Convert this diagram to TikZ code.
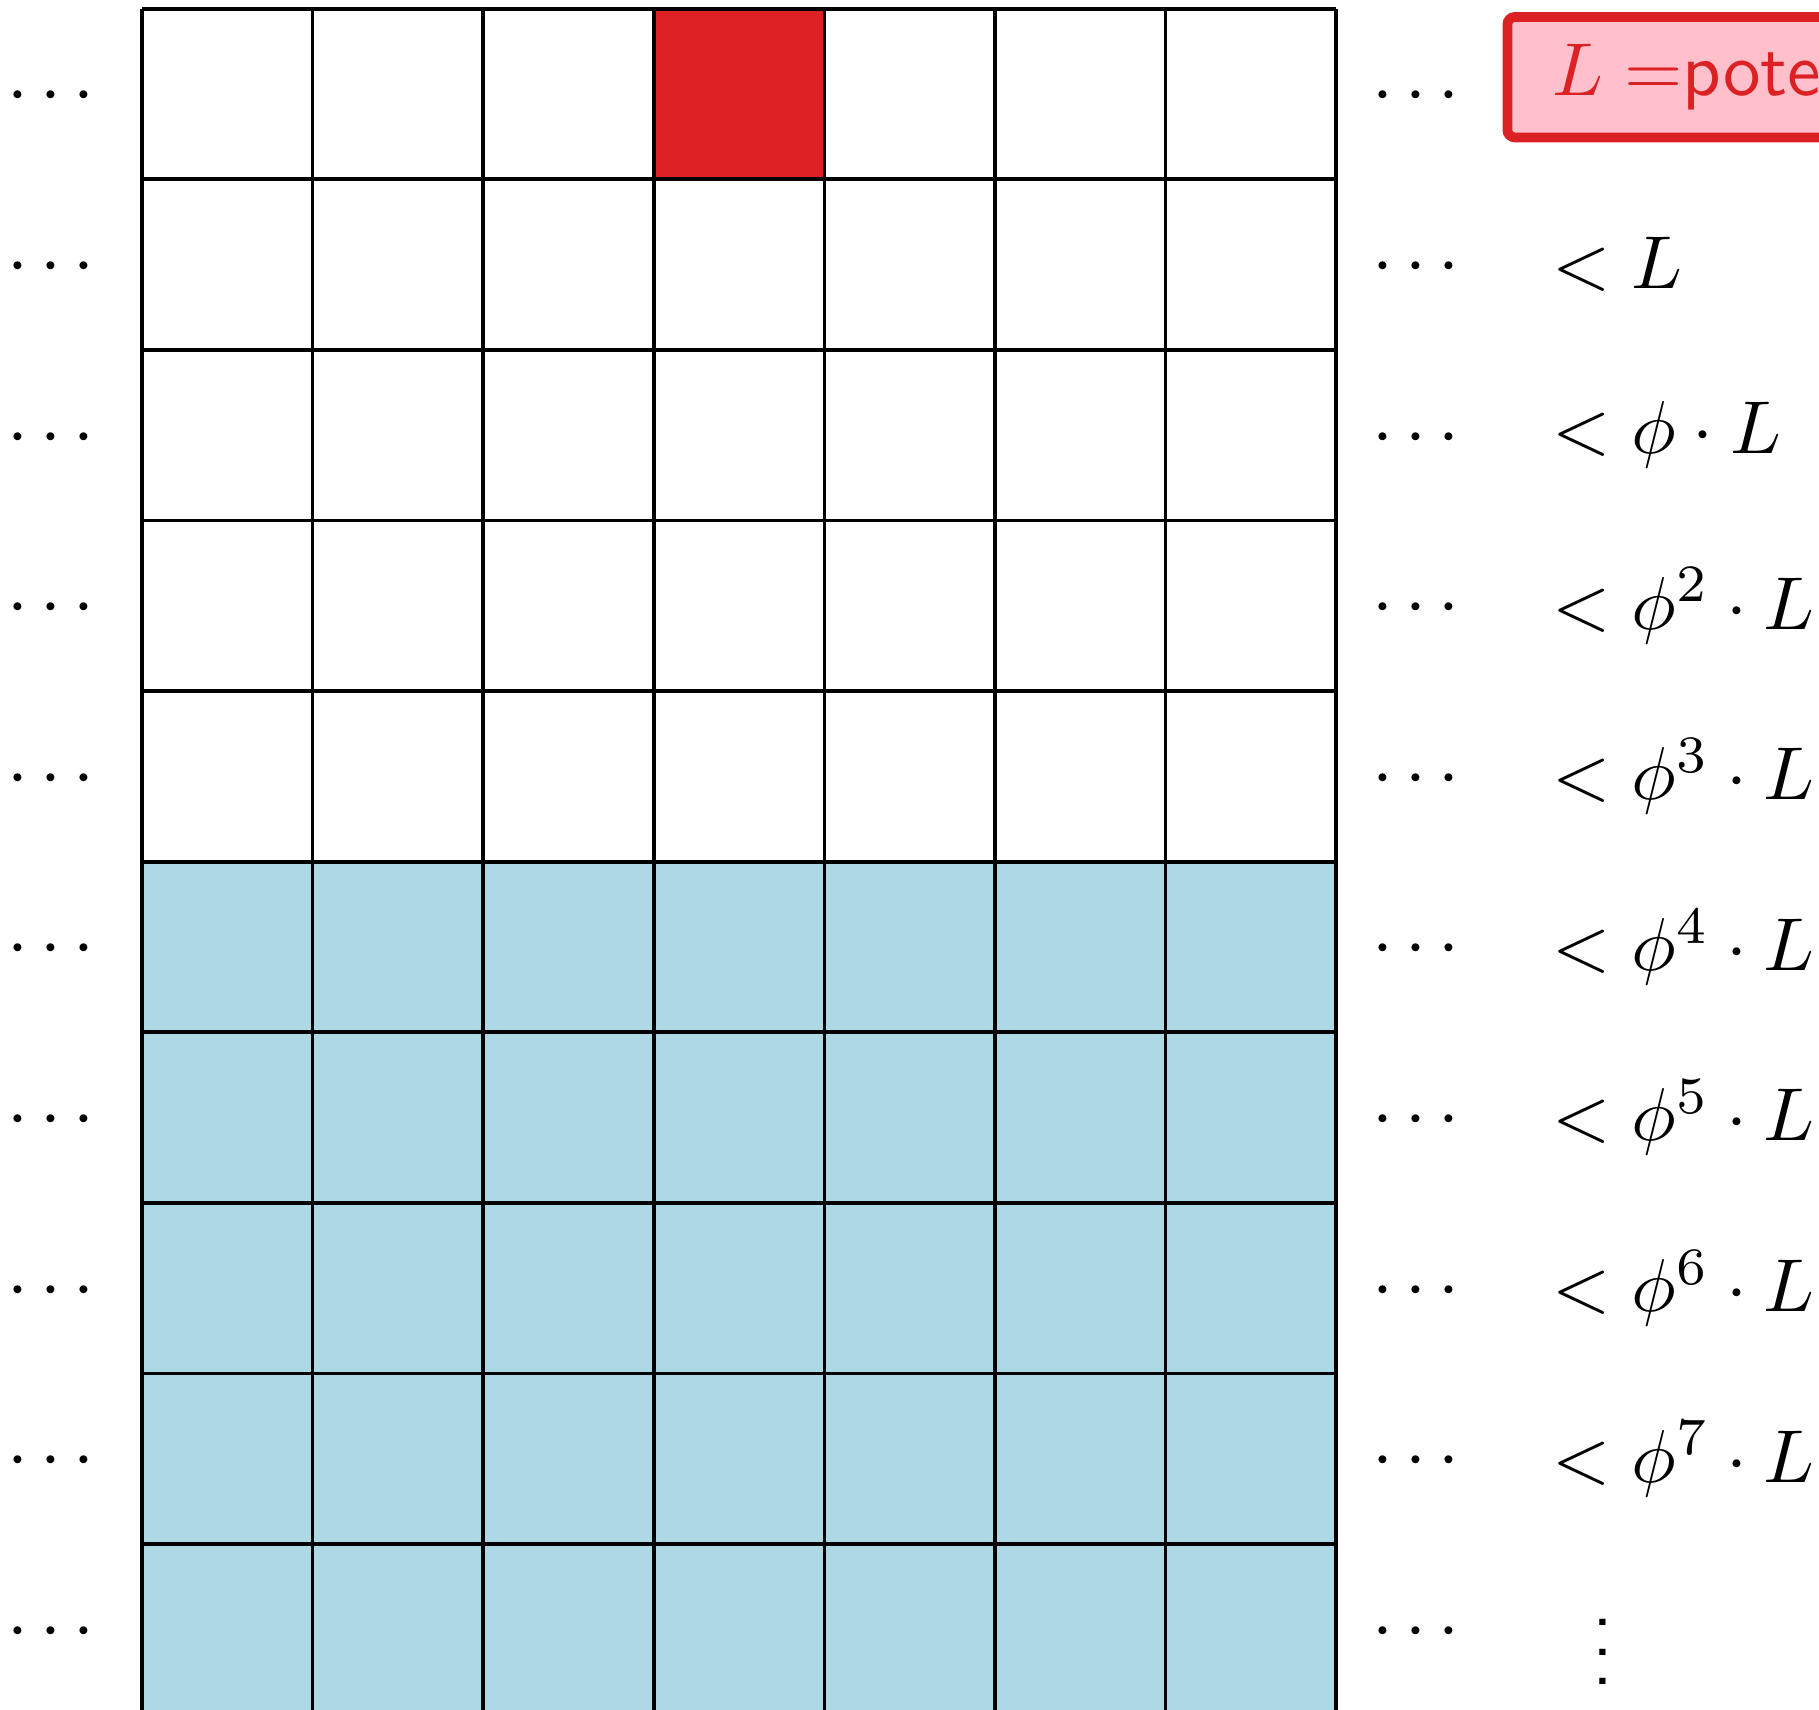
\documentclass[tikz,border=0pt]{standalone}
\usepackage{tikz}
\usepackage{xcolor}
\definecolor{cellred}{RGB}{220,33,36}
\definecolor{boxpink}{RGB}{255,192,203}
\definecolor{cellblue}{RGB}{173,216,230}

\begin{document}
\begin{tikzpicture}[font=\normalsize,
      gridline/.style={line width=0.5pt},
      dotlbl/.style={inner sep=3.33pt},
      bound/.style={anchor=west},
      potbox/.style={draw=cellred, fill=boxpink, text=cellred, line width=1.3pt,
                     rounded corners=1pt, anchor=west, inner xsep=6pt, inner ysep=3.6pt,
                     font=\sffamily}]
    \useasboundingbox (-0.666,0.041) rectangle (7.864,-7.978);
    % shaded rows and the marked cell
    \fill[cellblue] (0,-4) rectangle (5.6,-8);
    \fill[cellred] (2.4,0) rectangle (3.2,-0.8);
    \foreach \c in {0,...,7}
      \draw[gridline] ({0.8*\c},0) -- ({0.8*\c},-8);
    \foreach \r in {0,...,10}
      \draw[gridline] (0,{-0.8*\r}) -- (5.6,{-0.8*\r});

    % dots on both sides
    \foreach \r in {0,...,9} {
      \node[dotlbl] (lft\r) at (-0.428,{-0.415-0.8*\r}) {$\cdots$};
      \node[dotlbl] (rgt\r) at (5.973,{-0.415-0.8*\r}) {$\cdots$};
    }

    % bounds per row
    \node[potbox] (pot) at (6.38,-0.321) {$L=$potential};
    \node[bound] (lt0) at (6.49,-1.2) {$<L$};
    \node[bound] (lt1) at (6.49,-2.0) {$<\phi\cdot L$};
    \foreach \k in {2,...,7}
      \node[bound] (lt\k) at (6.49,{-0.4-0.8*(\k+1)}) {$<\phi^{\k}\cdot L$};
    \node (more) at (6.851,-7.6) {\sffamily$\vdots$};
  \end{tikzpicture}
\end{document}
